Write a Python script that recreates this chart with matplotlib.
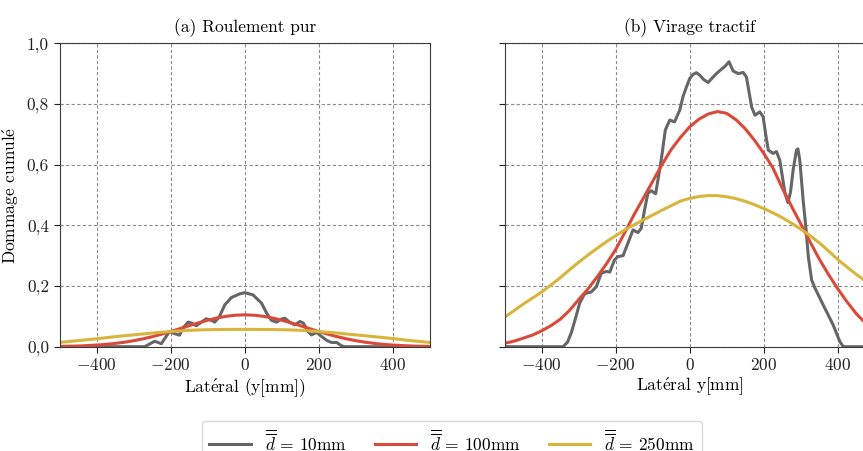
import matplotlib
matplotlib.use("Agg")
import matplotlib.pyplot as plt
from matplotlib.ticker import FuncFormatter

plt.rcParams['font.family'] = ['cmr10', 'DejaVu Serif']
plt.rcParams['mathtext.fontset'] = 'cm'
plt.rcParams['axes.formatter.use_mathtext'] = True
plt.rcParams['font.size'] = 12.5
plt.rcParams['axes.titlesize'] = 12.5

# values (lateral position in mm, cumulated damage)
x_a = [-500, -475, -450, -425, -400, -375, -350, -325, -300, -275, -250, -225, -200,
       -175, -150, -125, -100, -75, -50, -25, 0, 25, 50, 75, 100, 125, 150, 175, 200,
       225, 250, 275, 300, 325, 350, 375, 400, 425, 450, 475, 500]

# (a) rolling
a_red = [0.001, 0.0016, 0.0023, 0.0037, 0.0054, 0.0077, 0.0108, 0.0148, 0.0197, 0.0258,
         0.0329, 0.0411, 0.050, 0.0595, 0.0692, 0.0786, 0.0872, 0.0946, 0.1002, 0.1038, 0.105,
         0.1038, 0.1002, 0.0946, 0.0872, 0.0786, 0.0692, 0.0595, 0.050, 0.0411, 0.0329,
         0.0258, 0.0197, 0.0148, 0.0108, 0.0077, 0.0054, 0.0037, 0.0023, 0.0016, 0.001]
a_yellow = [0.014, 0.017, 0.020, 0.023, 0.026, 0.0295, 0.033, 0.036, 0.039, 0.042, 0.045,
            0.0475, 0.050, 0.052, 0.054, 0.0552, 0.056, 0.0565, 0.0568, 0.057, 0.057,
            0.057, 0.0568, 0.0565, 0.056, 0.0552, 0.054, 0.052, 0.050, 0.0475, 0.045,
            0.042, 0.039, 0.036, 0.033, 0.030, 0.027, 0.023, 0.020, 0.017, 0.014]
a_gray_x = [-500, -270, -252, -243, -225, -212, -203, -189, -176, -167, -153, -144, -131,
            -117, -104, -90, -81, -68, -54, -36, -14, 0, 22, 45, 59, 72, 86, 99, 108, 122,
            135, 149, 158, 171, 180, 194, 207, 221, 234, 248, 261, 270, 500]
a_gray = [0, 0, 0.012, 0.018, 0.010, 0.034, 0.050, 0.043, 0.038, 0.061, 0.081, 0.078, 0.069,
          0.081, 0.092, 0.087, 0.081, 0.100, 0.138, 0.162, 0.174, 0.178, 0.171, 0.144, 0.111,
          0.087, 0.081, 0.091, 0.094, 0.080, 0.072, 0.083, 0.078, 0.050, 0.039, 0.047, 0.034,
          0.021, 0.014, 0.014, 0.003, 0, 0]

# (b) traction cornering
x_b = [-500, -475, -450, -425, -400, -375, -350, -325, -300, -275, -250, -225, -200,
       -175, -150, -125, -100, -75, -50, -25, 0, 25, 50, 75, 100, 125, 150, 175, 200,
       225, 250, 275, 300, 325, 350, 375, 400, 425, 450, 475, 500]
b_red = [0.011, 0.018, 0.028, 0.038, 0.052, 0.069, 0.090, 0.119, 0.155, 0.190, 0.230, 0.273,
         0.320, 0.377, 0.436, 0.490, 0.545, 0.600, 0.650, 0.690, 0.725, 0.750, 0.767, 0.775,
         0.769, 0.748, 0.718, 0.680, 0.637, 0.588, 0.522, 0.462, 0.404, 0.345, 0.288, 0.237,
         0.190, 0.147, 0.108, 0.077, 0.050]
b_yellow = [0.097, 0.118, 0.140, 0.160, 0.180, 0.203, 0.227, 0.253, 0.278, 0.302, 0.324,
            0.346, 0.366, 0.385, 0.402, 0.418, 0.434, 0.450, 0.465, 0.480, 0.489, 0.495,
            0.498, 0.498, 0.494, 0.488, 0.479, 0.468, 0.455, 0.441, 0.425, 0.407, 0.387,
            0.366, 0.342, 0.315, 0.287, 0.262, 0.238, 0.216, 0.195]
b_gray_x = [-500, -342, -330, -320, -308, -297, -284, -275, -266, -252, -239, -225, -216,
            -203, -194, -180, -167, -153, -140, -131, -122, -113, -104, -92, -77, -66, -54,
            -41, -27, -18, -9, 0, 9, 18, 27, 38, 50, 60, 72, 85, 95, 106, 117, 131, 144, 153,
            160, 167, 176, 189, 198, 205, 212, 225, 234, 243, 257, 265, 272, 279, 288, 292,
            297, 306, 314, 320, 329, 338, 360, 387, 405, 414, 420, 500]
b_gray = [0, 0, 0.015, 0.045, 0.095, 0.144, 0.174, 0.178, 0.180, 0.198, 0.242, 0.248, 0.246,
          0.286, 0.297, 0.300, 0.341, 0.385, 0.376, 0.390, 0.451, 0.506, 0.514, 0.504, 0.615,
          0.714, 0.747, 0.741, 0.780, 0.825, 0.856, 0.884, 0.898, 0.903, 0.895, 0.880, 0.871,
          0.885, 0.900, 0.914, 0.924, 0.939, 0.909, 0.900, 0.904, 0.889, 0.840, 0.790, 0.763,
          0.774, 0.758, 0.700, 0.648, 0.637, 0.643, 0.615, 0.506, 0.475, 0.510, 0.582, 0.648,
          0.652, 0.615, 0.484, 0.385, 0.297, 0.220, 0.193, 0.138, 0.072, 0.017, 0.001, 0, 0]

labels = [r'$\overline{\overline{d}}$ = 10mm',
          r'$\overline{\overline{d}}$ = 100mm',
          r'$\overline{\overline{d}}$ = 250mm']
colors = ['#666666', '#d94a3b', '#d8b53a']
titles = ['(a) Roulement pur', '(b) Virage tractif']
xlabels = [r'Lat$\mathrm{\acute{e}}$ral (y[mm])', r'Lat$\mathrm{\acute{e}}$ral y[mm]']

W, H = 863, 451
fig = plt.figure(figsize=(W / 100, H / 100), dpi=100)
ax1 = fig.add_axes([59.5 / W, (H - 346.7) / H, 370.5 / W, 303.4 / H])
ax2 = fig.add_axes([504.5 / W, (H - 346.7) / H, 370.5 / W, 303.4 / H], sharey=ax1)

data = [
    [(a_gray_x, a_gray), (x_a, a_red), (x_a, a_yellow)],
    [(b_gray_x, b_gray), (x_b, b_red), (x_b, b_yellow)],
]

for k, ax in enumerate([ax1, ax2]):
    for (xs, ys), c, lab in zip(data[k], colors, labels):
        ax.plot(xs, ys, color=c, lw=2.2, label=lab, solid_joinstyle='round')
    ax.set_xlim(-500, 500)
    ax.set_ylim(0, 1)
    ax.set_xticks([-400, -200, 0, 200, 400])
    ax.set_yticks([0, 0.2, 0.4, 0.6, 0.8, 1.0])
    ax.grid(True, ls=(0, (3, 2)), color='#8c8c8c', lw=0.8)
    ax.set_axisbelow(True)
    ax.set_title(titles[k], pad=8)
    ax.set_xlabel(xlabels[k], labelpad=2)
    ax.xaxis.set_major_formatter(FuncFormatter(lambda v, p: '$%d$' % v))
    for s in ax.spines.values():
        s.set_color('#3a3a3a')
    ax.tick_params(colors='#222222', length=4)

ax1.yaxis.set_major_formatter(FuncFormatter(lambda v, p: ('%.1f' % v).replace('.', ',')))
ax1.set_ylabel(r'Dommage cumul$\mathrm{\acute{e}}$')
plt.setp(ax2.get_yticklabels(), visible=False)

handles, labs = ax1.get_legend_handles_labels()
fig.legend(handles, labs, loc='upper center', ncol=3, bbox_to_anchor=(452 / W, 1 - 421 / H),
           handlelength=2.4, handletextpad=0.8, columnspacing=1.6, frameon=True,
           edgecolor='#d0d0d0', borderaxespad=0)

fig.savefig('out.png', dpi=100)
